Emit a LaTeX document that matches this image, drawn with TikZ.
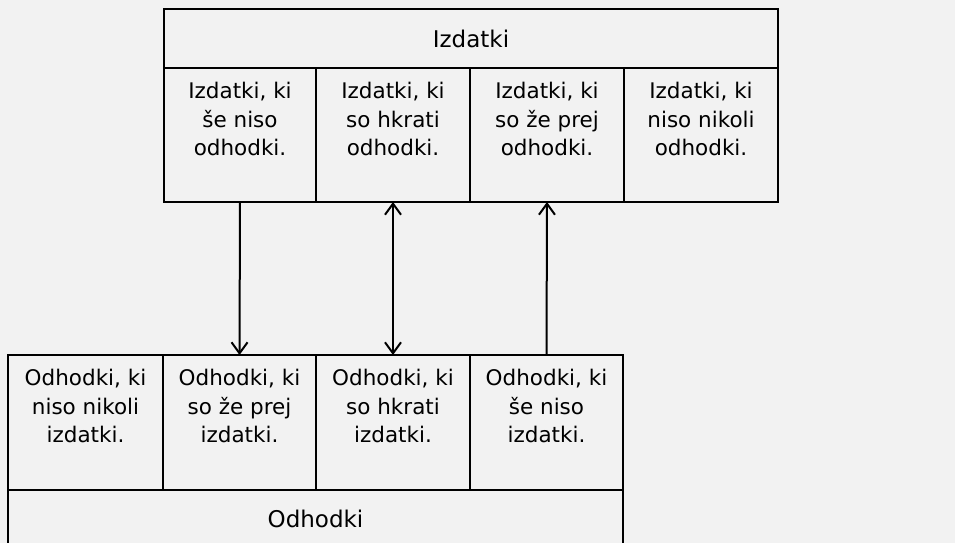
\documentclass[tikz,border=0pt]{standalone}
\usepackage{fontspec}
\setmainfont{DejaVu Sans}
\usetikzlibrary{arrows.meta}
\definecolor{paper}{HTML}{F2F2F2}
\tikzset{
  cell/.style={draw=black, line width=2.2pt, fill=paper, rectangle,
    inner sep=0pt, outer sep=0pt, anchor=north west,
    minimum width=#1, minimum height=134pt},
  headbox/.style={draw=black, line width=2.2pt, fill=paper, rectangle,
    inner sep=0pt, outer sep=0pt, anchor=north west,
    font=\fontsize{23}{28}\selectfont},
  celltext/.style={anchor=north, align=center, inner sep=0pt,
    font=\fontsize{21.5}{28.7}\selectfont},
  flow/.style={line width=2pt, -{Straight Barb[length=11pt,width=16pt,line width=2pt]}},
  flowboth/.style={line width=2pt, {Straight Barb[length=11pt,width=16pt,line width=2pt]}-{Straight Barb[length=11pt,width=16pt,line width=2pt]}}
}
\begin{document}
\begin{tikzpicture}[x=1pt,y=-1pt]
\useasboundingbox (0,0) rectangle (955,543);
\fill[paper] (0,0) rectangle (955,543);
\begin{scope}
\clip (0,0) rectangle (955,543);

% expenditure (Izdatki) block
\node[headbox, minimum width=614pt, minimum height=59pt] (ih) at (164,9) {Izdatki};
\node[cell=152pt] (t1) at (164,68) {};
\node[cell=154pt] (t2) at (316,68) {};
\node[cell=154pt] (t3) at (470,68) {};
\node[cell=154pt] (t4) at (624,68) {};
\node[celltext] (t1x) at ([yshift=-14pt]t1.north) {Izdatki, ki\\še niso\\odhodki.};
\node[celltext] (t2x) at ([yshift=-14pt]t2.north) {Izdatki, ki\\so hkrati\\odhodki.};
\node[celltext] (t3x) at ([yshift=-14pt]t3.north) {Izdatki, ki\\so že prej\\odhodki.};
\node[celltext] (t4x) at ([yshift=-14pt]t4.north) {Izdatki, ki\\niso nikoli\\odhodki.};

% expense (Odhodki) block
\node[cell=155pt, minimum height=135pt] (b1) at (8,355) {};
\node[cell=153pt, minimum height=135pt] (b2) at (163,355) {};
\node[cell=154pt, minimum height=135pt] (b3) at (316,355) {};
\node[cell=153pt, minimum height=135pt] (b4) at (470,355) {};
\node[headbox, minimum width=615pt, minimum height=58pt] (oh) at (8,490) {Odhodki};
\node[celltext] (b1x) at ([yshift=-14pt]b1.north) {Odhodki, ki\\niso nikoli\\izdatki.};
\node[celltext] (b2x) at ([yshift=-14pt]b2.north) {Odhodki, ki\\so že prej\\izdatki.};
\node[celltext] (b3x) at ([yshift=-14pt]b3.north) {Odhodki, ki\\so hkrati\\izdatki.};
\node[celltext] (b4x) at ([yshift=-14pt]b4.north) {Odhodki, ki\\še niso\\izdatki.};

% links between matching categories
\draw[flow] (t1.south) -- (b2.north);
\draw[flowboth] (t2.south) -- (b3.north);
\draw[flow] (b4.north) -- (t3.south);
\end{scope}
\end{tikzpicture}
\end{document}
